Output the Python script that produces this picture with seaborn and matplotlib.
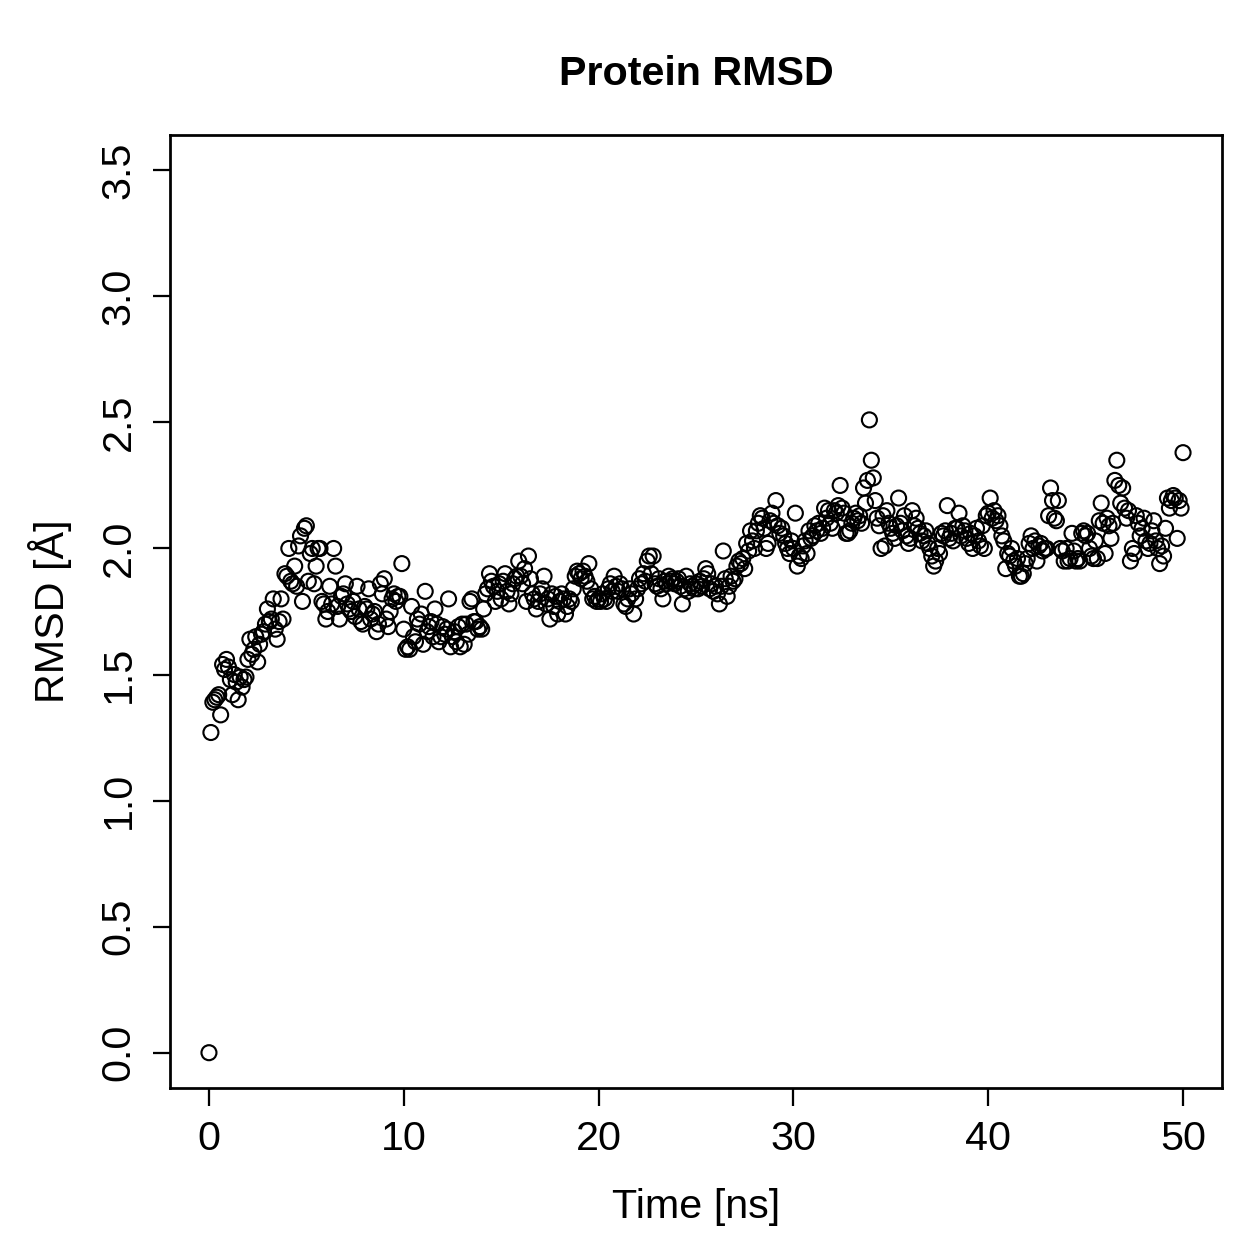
import numpy as np
import pandas as pd
import seaborn as sns
import matplotlib.pyplot as plt

# ==========================
# DATA (0.1 ns steps)
# ==========================

rmsd_00_10 = [
    0.00, 1.27, 1.39, 1.40, 1.41, 1.42, 1.34, 1.54, 1.52, 1.56,
    1.53, 1.48, 1.42, 1.50, 1.47, 1.40, 1.49, 1.45, 1.48, 1.49,
    1.56, 1.64, 1.58, 1.60, 1.65, 1.55, 1.62, 1.66, 1.67, 1.70,
    1.76, 1.71, 1.72, 1.80, 1.68, 1.64, 1.71, 1.80, 1.72, 1.90,
    1.89, 2.00, 1.87, 1.86, 1.93, 1.85, 2.01, 2.05, 1.79, 2.08,
    2.09, 1.87, 1.98, 2.00, 1.86, 1.93, 2.00, 2.00, 1.79, 1.78,
    1.72, 1.75, 1.85, 1.78, 2.00, 1.93, 1.77, 1.72, 1.81, 1.82,
    1.86, 1.78, 1.76, 1.75, 1.79, 1.73, 1.85, 1.76, 1.71, 1.70,
    1.77, 1.76, 1.84, 1.72, 1.74, 1.75, 1.67, 1.70, 1.86, 1.82,
    1.88, 1.72, 1.69, 1.75, 1.80, 1.82, 1.79, 1.81, 1.81, 1.94,
]
rmsd_10_20 = [
    1.68, 1.60, 1.61, 1.60, 1.77, 1.65, 1.63, 1.72, 1.70, 1.74,
    1.62, 1.83, 1.67, 1.69, 1.71, 1.65, 1.76, 1.70, 1.63, 1.65,
    1.69, 1.66, 1.68, 1.80, 1.61, 1.65, 1.67, 1.63, 1.69, 1.61,
    1.70, 1.62, 1.70, 1.66, 1.79, 1.80, 1.71, 1.71, 1.68, 1.69,
    1.68, 1.76, 1.82, 1.84, 1.90, 1.87, 1.85, 1.79, 1.83, 1.86,
    1.80, 1.87, 1.90, 1.83, 1.78, 1.82, 1.86, 1.88, 1.89, 1.95,
    1.89, 1.86, 1.92, 1.79, 1.97, 1.88, 1.82, 1.80, 1.76, 1.79,
    1.82, 1.84, 1.89, 1.78, 1.80, 1.72, 1.82, 1.77, 1.81, 1.74,
    1.79, 1.82, 1.80, 1.74, 1.77, 1.80, 1.79, 1.84, 1.89, 1.91,
    1.90, 1.88, 1.91, 1.89, 1.87, 1.94, 1.84, 1.80, 1.81, 1.79,
]
rmsd_20_30 = [
    1.80, 1.79, 1.82, 1.80, 1.79, 1.84, 1.86, 1.83, 1.89, 1.85,
    1.83, 1.86, 1.84, 1.78, 1.77, 1.80, 1.84, 1.82, 1.74, 1.80,
    1.84, 1.88, 1.86, 1.90, 1.87, 1.95, 1.97, 1.90, 1.97, 1.86,
    1.85, 1.88, 1.84, 1.80, 1.87, 1.86, 1.89, 1.87, 1.88, 1.86,
    1.87, 1.88, 1.85, 1.78, 1.84, 1.89, 1.83, 1.86, 1.85, 1.84,
    1.86, 1.84, 1.87, 1.85, 1.88, 1.92, 1.90, 1.84, 1.86, 1.83,
    1.85, 1.82, 1.78, 1.85, 1.99, 1.88, 1.81, 1.85, 1.89, 1.87,
    1.88, 1.93, 1.95, 1.94, 1.96, 1.92, 2.02, 1.99, 2.07, 2.03,
    2.00, 2.07, 2.10, 2.13, 2.12, 2.08, 2.00, 2.02, 2.11, 2.14,
    2.10, 2.19, 2.09, 2.06, 2.08, 2.05, 2.02, 2.00, 1.98, 2.03,
]
rmsd_30_40 = [
    2.00, 2.14, 1.93, 1.97, 1.96, 2.01, 2.03, 1.98, 2.07, 2.04,
    2.05, 2.09, 2.07, 2.10, 2.06, 2.08, 2.16, 2.12, 2.15, 2.10,
    2.08, 2.15, 2.14, 2.17, 2.25, 2.16, 2.14, 2.06, 2.06, 2.07,
    2.10, 2.12, 2.14, 2.11, 2.13, 2.10, 2.24, 2.18, 2.27, 2.51,
    2.35, 2.28, 2.19, 2.12, 2.09, 2.00, 2.13, 2.01, 2.15, 2.10,
    2.08, 2.06, 2.04, 2.09, 2.20, 2.10, 2.07, 2.13, 2.05, 2.02,
    2.04, 2.15, 2.09, 2.12, 2.08, 2.06, 2.03, 2.05, 2.07, 2.02,
    2.00, 1.97, 1.93, 1.95, 2.00, 1.98, 2.06, 2.05, 2.07, 2.17,
    2.04, 2.06, 2.03, 2.08, 2.08, 2.14, 2.05, 2.09, 2.07, 2.04,
    2.02, 2.06, 2.00, 2.05, 2.08, 2.03, 2.01, 2.09, 2.00, 2.13,
]
rmsd_40_50 = [
    2.14, 2.20, 2.12, 2.15, 2.11, 2.13, 2.09, 2.05, 2.03, 1.92,
    1.98, 1.97, 2.00, 1.95, 1.93, 1.96, 1.89, 1.89, 1.90, 1.94,
    1.96, 2.02, 2.05, 2.00, 2.03, 1.95, 2.01, 2.02, 1.99, 2.00,
    2.00, 2.13, 2.24, 2.19, 2.12, 2.11, 2.19, 2.00, 1.99, 1.95,
    2.00, 1.95, 1.96, 2.06, 1.99, 1.95, 1.96, 1.95, 2.06, 2.07,
    2.05, 2.06, 2.00, 1.97, 1.96, 2.03, 1.96, 2.11, 2.18, 2.10,
    1.98, 2.12, 2.09, 2.04, 2.10, 2.27, 2.35, 2.25, 2.18, 2.24,
    2.16, 2.12, 2.15, 1.95, 2.00, 1.98, 2.13, 2.10, 2.05, 2.08,
    2.12, 2.03, 2.00, 2.02, 2.07, 2.11, 2.03, 2.00, 1.94, 2.01,
    1.97, 2.08, 2.20, 2.16, 2.19, 2.21, 2.20, 2.04, 2.19, 2.16,
    2.38,
]

rmsd = rmsd_00_10 + rmsd_10_20 + rmsd_20_30 + rmsd_30_40 + rmsd_40_50
time_ns = np.round(np.arange(len(rmsd)) * 0.1, 1)

x_ticks = [0, 10, 20, 30, 40, 50]
y_ticks = [0.0, 0.5, 1.0, 1.5, 2.0, 2.5, 3.0, 3.5]

df = pd.DataFrame({"time": time_ns, "rmsd": rmsd})

# ==========================
# PLOT
# ==========================

sns.set_style("white")
plt.rcParams["font.family"] = ["Liberation Sans", "DejaVu Sans"]
plt.rcParams["text.color"] = "black"
plt.rcParams["axes.labelcolor"] = "black"

fig = plt.figure(figsize=(1259 / 180, 1259 / 180), dpi=180)
ax = fig.add_axes([170 / 1259, 1 - 1088 / 1259, (1222 - 170) / 1259, (1088 - 135) / 1259])

sns.scatterplot(
    data=df, x="time", y="rmsd", ax=ax,
    marker="o", s=36, fc="none", ec="black", linewidth=0.85,
)

ax.set_xlim(-2, 52)
ax.set_ylim(-0.14, 3.64)
ax.set_xticks(x_ticks)
ax.set_xticklabels([str(v) for v in x_ticks])
ax.set_yticks(y_ticks)
ax.set_yticklabels([f"{v:.1f}" for v in y_ticks], rotation=90, va="center")

ax.tick_params(direction="out", length=7, width=0.9, labelsize=16.5,
               color="black", labelcolor="black", pad=6)
ax.tick_params(axis="x", bottom=True)
ax.tick_params(axis="y", left=True)

for sp in ax.spines.values():
    sp.set_visible(True)
    sp.set_color("black")
    sp.set_linewidth(1.1)

ax.set_xlabel("Time [ns]", fontsize=16.5, labelpad=12)
ax.set_ylabel("RMSD [Å]", fontsize=16.5, labelpad=11)
ax.set_title("Protein RMSD", fontsize=16.5, fontweight="bold", pad=20, color="black")

plt.savefig("out.png", dpi=180)
